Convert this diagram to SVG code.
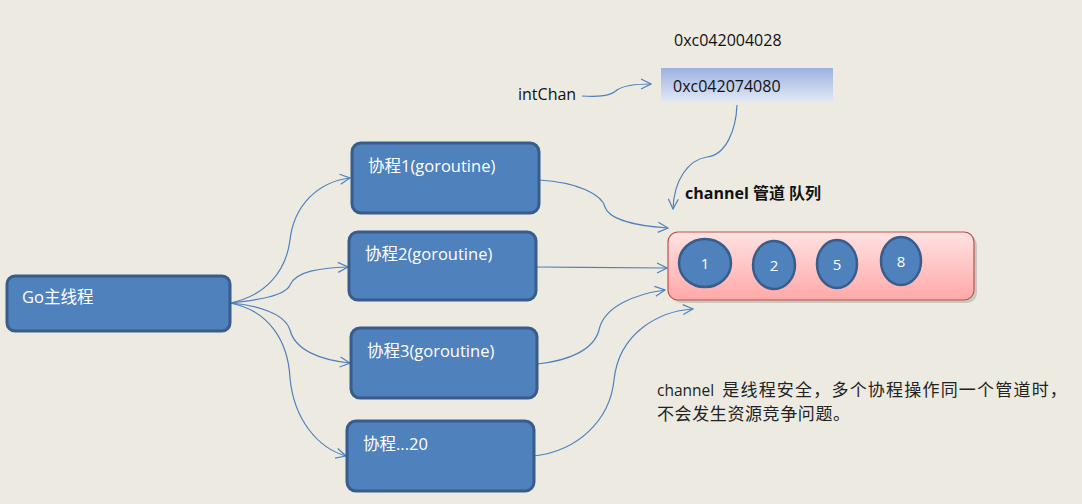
<svg xmlns="http://www.w3.org/2000/svg" width="1082" height="504" viewBox="0 0 1082 504">
<defs>
<style>
.box{fill:#4F81BD;stroke:#385D8A;stroke-width:3}
.bt{font-family:"Open Sans","Noto Sans CJK SC",sans-serif;font-size:16.5px;fill:#fff}
.con{fill:none;stroke:#4F81BD;stroke-width:1.2}
.ell{fill:#4F81BD;stroke:#385D8A;stroke-width:2.5}
.et{font-family:"Open Sans",sans-serif;font-size:15px;fill:#fff;text-anchor:middle}
.tx{font-family:"Open Sans","Noto Sans CJK SC",sans-serif;font-size:16px;fill:#111}
.cj{font-family:"Noto Sans CJK SC",sans-serif;font-size:17px;fill:#222}
</style>
<marker id="arr" viewBox="0 0 12 12" refX="11" refY="6" markerWidth="12" markerHeight="12" markerUnits="userSpaceOnUse" orient="auto">
<path d="M1,1 L11,6 L1,11" fill="none" stroke="#4F81BD" stroke-width="1.2"/>
</marker>
<linearGradient id="gBlue" x1="0" y1="0" x2="0" y2="1">
<stop offset="0" stop-color="#9BB2E0"/>
<stop offset="1" stop-color="#E3E9F6"/>
</linearGradient>
<linearGradient id="gRed" x1="0" y1="0" x2="0" y2="1">
<stop offset="0" stop-color="#FFE2E2"/>
<stop offset="1" stop-color="#FFA8A8"/>
</linearGradient>
</defs>
<rect width="1082" height="504" fill="#EDEBE1"/>

<g id="connectors">
<path class="con" marker-end="url(#arr)" d="M230,303 C265,296 286,272 290,240 C294,205 318,182 350,178"/>
<path class="con" marker-end="url(#arr)" d="M230,303 C258,300 285,296 290,285 C296,271 320,268 348,267"/>
<path class="con" marker-end="url(#arr)" d="M230,303 C258,305 285,314 290,330 C295,350 320,360 350,363"/>
<path class="con" marker-end="url(#arr)" d="M230,303 C268,310 288,340 290,378 C294,420 318,448 346,456"/>
<path class="con" marker-end="url(#arr)" d="M539,180 C578,182 602,195 605,207 C609,220 638,226 668,228"/>
<path class="con" marker-end="url(#arr)" d="M536,267 C580,267 620,268 667,268"/>
<path class="con" marker-end="url(#arr)" d="M537,364 C568,361 594,350 599,330 C604,306 636,294 665,290"/>
<path class="con" marker-end="url(#arr)" d="M534,456 C578,451 610,420 614,380 C619,332 660,311 693,309"/>
<path class="con" marker-end="url(#arr)" d="M582,96 C600,97 610,96 617,90 C624,85 638,84 651,84"/>
<path class="con" marker-end="url(#arr)" d="M737,105 C736,130 726,155 707,157 C688,160 674,180 673,209"/>
</g>

<g id="main">
<rect class="box" x="7" y="276" width="223" height="55" rx="8"/>
<text class="bt" x="22" y="303" font-size="17">Go主线程</text>
</g>
<g id="g1">
<rect class="box" x="352" y="143" width="187" height="70" rx="9"/>
<text class="bt" x="368" y="172">协程1(goroutine)</text>
</g>
<g id="g2">
<rect class="box" x="349" y="232" width="187" height="68" rx="9"/>
<text class="bt" x="365" y="260">协程2(goroutine)</text>
</g>
<g id="g3">
<rect class="box" x="351" y="328" width="186" height="70" rx="9"/>
<text class="bt" x="367" y="357">协程3(goroutine)</text>
</g>
<g id="g20">
<rect class="box" x="347" y="421" width="187" height="70" rx="9"/>
<text class="bt" x="363" y="450">协程...20</text>
</g>

<g id="addr">
<text class="tx" x="674" y="46">0xc042004028</text>
</g>
<g id="ptr">
<rect x="661" y="68" width="172" height="34" fill="url(#gBlue)"/>
<text class="tx" x="673" y="92">0xc042074080</text>
</g>
<g id="intChan">
<text class="tx" x="518" y="100">intChan</text>
</g>
<g id="chlabel">
<text x="685" y="199" font-family="'Open Sans','Noto Sans CJK SC',sans-serif" font-size="16" font-weight="bold" fill="#111">channel 管道 队列</text>
</g>

<g id="channel">
<rect x="671" y="235" width="306" height="68" rx="10" fill="#000" opacity="0.15"/>
<rect x="668" y="232" width="306" height="68" rx="10" fill="url(#gRed)" stroke="#C0504D" stroke-width="1.2"/>
<ellipse class="ell" cx="705" cy="263" rx="26" ry="24"/>
<text class="et" x="705" y="269">1</text>
<ellipse class="ell" cx="774" cy="265" rx="21" ry="24"/>
<text class="et" x="774" y="271">2</text>
<ellipse class="ell" cx="837" cy="264" rx="20" ry="24"/>
<text class="et" x="837" y="270">5</text>
<ellipse class="ell" cx="901" cy="261" rx="20" ry="24"/>
<text class="et" x="901" y="267">8</text>
</g>

<g id="note">
<text class="cj" x="657" y="396" xml:space="preserve"><tspan font-family="'Open Sans',sans-serif" font-size="15.5">channel  </tspan><tspan letter-spacing="1.2">是线程安全，多个协程操作同一个管道时，</tspan></text>
<text class="cj" x="657" y="420" letter-spacing="0.6">不会发生资源竞争问题。</text>
</g>
</svg>
